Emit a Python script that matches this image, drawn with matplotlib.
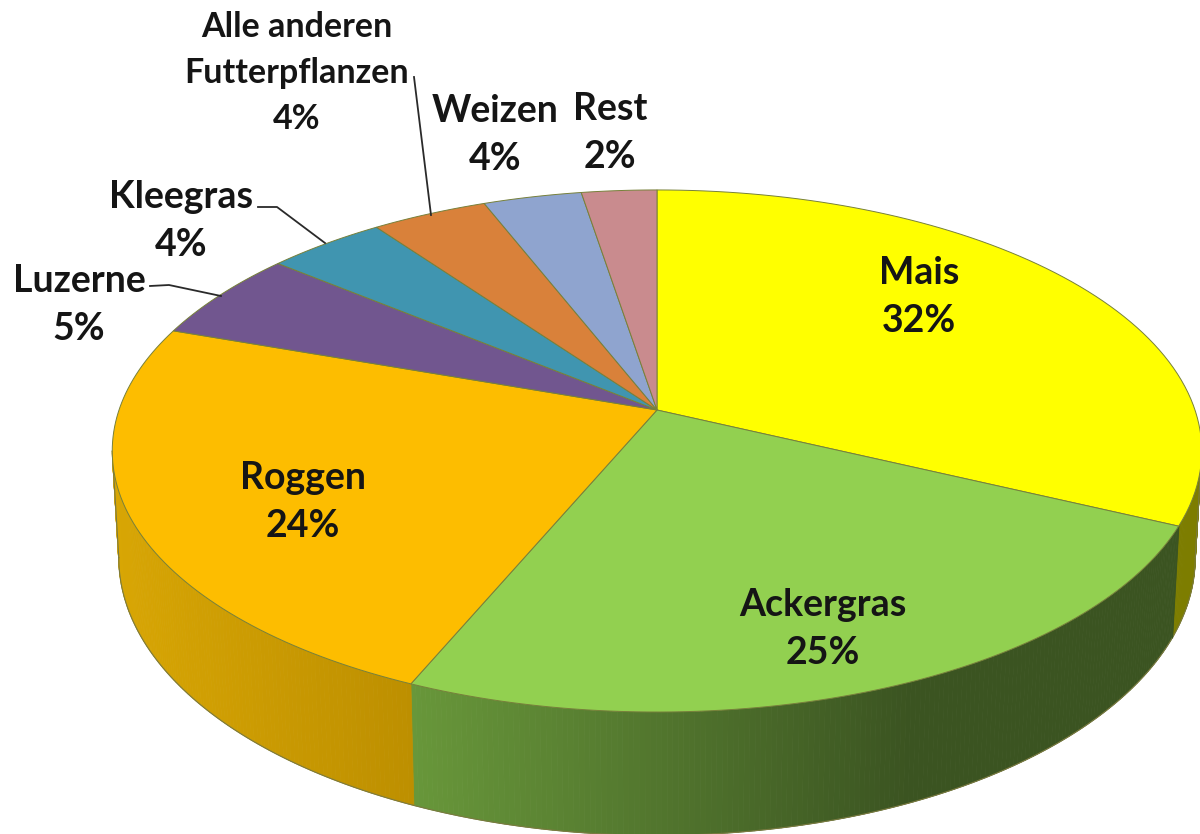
import numpy as np
import matplotlib
matplotlib.use("Agg")
import matplotlib.pyplot as plt
from matplotlib.colors import to_rgb

plt.rcParams['font.family'] = ['Lato', 'DejaVu Sans']

categories = ["Mais", "Ackergras", "Roggen", "Luzerne", "Kleegras",
              "Alle anderen\nFutterpflanzen", "Weizen", "Rest"]
percent_labels = ["32%", "25%", "24%", "5%", "4%", "4%", "4%", "2%"]
# slice sizes as measured on the picture, the printed labels are rounded
shares = [32.0, 24.4, 23.9, 5.6, 4.1, 4.0, 3.4, 2.6]
top_colors = ["#ffff00", "#92d050", "#fdbd00", "#71568f", "#4095b0",
              "#d9813a", "#8fa4cf", "#c98b8e"]
wall_left = ["#7d7d00", "#68973a", "#d8a604", None, None, None, None, None]
wall_right = ["#7d7d00", "#3b5421", "#bd8f00", None, None, None, None, None]

# label centre, in pixels of the reference
label_x = [919, 823, 303, 79, 181, 297, 495, 610]
label_y = [297, 629, 502, 305, 221, 73, 135, 133]
label_size = [27, 27, 27, 27, 27, 24.5, 27, 27]
# leader lines
leader_x = [[150, 169, 221], [258, 277, 325], [414, 414, 431]]
leader_y = [[286, 285, 296], [207, 207, 243], [77, 77, 215]]

# disc geometry
cx, cy = 657, 410
rx, ry, persp = 538, 254.6, 0.157
depth, shrink = 104, 0.988
# the wall is seen only between the two points where the rim turns back
turn = np.degrees(np.arcsin(persp))


def project(angle, lower=False):
    x = np.cos(angle)
    y = np.sin(angle)
    w = 1 + persp * y
    px = cx + rx * x / w
    py = cy - ry * y / w
    if lower:
        px = cx + (px - cx) * shrink
        py = py + depth / w
    return px, py


fig = plt.figure(figsize=(12, 8.34), dpi=100)
ax = fig.add_axes([0, 0, 1, 1])
ax.set_xlim(0, 1200)
ax.set_ylim(834, 0)
ax.axis("off")

edges = 90 - 3.6 * np.concatenate([[0], np.cumsum(shares)])

# side wall, cut in thin strips so the shading runs along it
for i in range(3):
    a0 = min(edges[i], -turn)
    a1 = max(edges[i + 1], -180 + turn)
    n = int(abs(a1 - a0) * 2) + 1
    steps = np.radians(np.linspace(a0, a1, n + 1))
    c0 = np.array(to_rgb(wall_right[i]))
    c1 = np.array(to_rgb(wall_left[i]))
    xa, _ = project(steps[0])
    xb, _ = project(steps[-1])
    for k in range(n):
        tx, ty = project(steps[k:k + 2])
        bx, by = project(steps[k:k + 2], lower=True)
        t = (tx.mean() - xa) / (xb - xa)
        if i == 1:
            # the green wall stays dark over its right part
            t = np.clip((t - 0.35) / 0.65, 0, 1)
        col = c0 + (c1 - c0) * t
        ax.fill(np.r_[tx, bx[::-1]], np.r_[ty, by[::-1]], color=col, lw=0.6, zorder=1)
    ex, ey = project(steps, lower=True)
    ax.plot(ex, ey, color="#7a7a40", lw=0.8, zorder=1.5)

# cut between the Mais and Ackergras wall, and the two ends of the wall
for a in [edges[1], -turn, -180 + turn]:
    sx, sy = project(np.radians(a))
    ux, uy = project(np.radians(a), lower=True)
    ax.plot([sx, ux], [sy, uy], color="#3b5421" if a == edges[1] else "#7a7a40",
            lw=1.0 if a == edges[1] else 0.8, zorder=1.5)

# top of the pie
for i in range(len(shares)):
    ang = np.radians(np.linspace(edges[i], edges[i + 1], 80))
    px, py = project(ang)
    ax.fill(np.r_[cx, px], np.r_[cy, py], facecolor=top_colors[i],
            edgecolor="#77803a", lw=0.7, zorder=2)

for xs, ys in zip(leader_x, leader_y):
    ax.plot(xs, ys, color="#2a2a2a", lw=1.3, zorder=3)

for name, pct, x, y, fs in zip(categories, percent_labels, label_x, label_y, label_size):
    ax.text(x, y, name + "\n" + pct, ha="center", va="center", fontsize=fs,
            fontweight="bold", color="#151515", linespacing=1.53, zorder=4)

fig.savefig("out.png", dpi=100)
